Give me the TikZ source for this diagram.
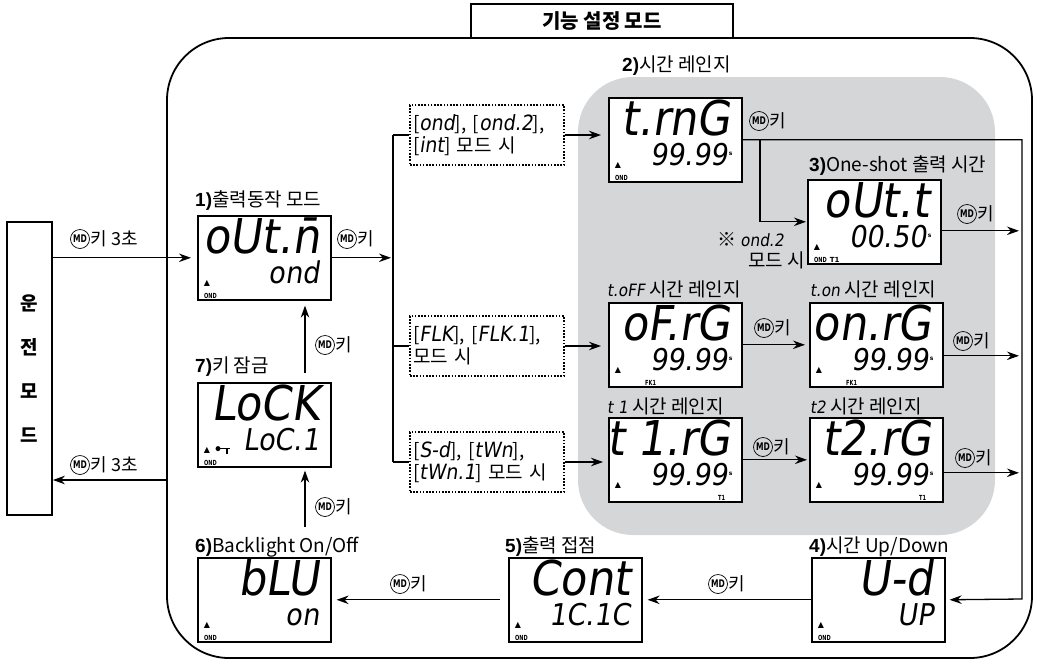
\documentclass[tikz,border=0pt]{standalone}
\usepackage{fontspec}
\usetikzlibrary{arrows.meta,calc}
\setmainfont{Noto Sans CJK KR}
\newfontfamily\lcdf{DejaVu Sans}[FakeStretch=0.9,FakeSlant=0.15]
\newfontfamily\narf{DejaVu Sans}[FakeStretch=0.72]
\newfontfamily\symf{DejaVu Sans}
\newfontfamily\numf{Liberation Sans}
\definecolor{panelgray}{RGB}{212,214,215}
\newcommand\fsz[1]{\fontsize{#1}{#1}\selectfont}
\newcommand\nb[1]{{\numf\bfseries #1}}
\newcommand\lcds[1]{{\lcdf\fsz{17}#1}}
\newcommand\lcdb[1]{{\lcdf\fsz{21}#1}}
\newcommand\lcdDisp[5]{%
  \node[disp] (#1) at #2 {};
  \node[lcdbig] (#1-top) at ([shift={(-12,38)}]#1.north east) {#3};
  \node[lcdsm] (#1-bot) at ([shift={(-#5,68)}]#1.north east) {#4};
  \node[tri] (#1-tri) at ([shift={(10,-17)}]#1.south west) {▲};
}
\newcommand\dispTag[3]{\node[tag] (#1-tag) at ([shift={(#2,-2)}]#1.south west) {#3};}
\newcommand\sMark[1]{\node[smark] (#1-s) at ([shift={(1,-11)}]#1-bot.base east) {s};}
\newcommand\mdKey[3]{%
  \node[mdc] (#1) at #2 {MD};
  \node[keyt] (#1-t) at (#1.east) {#3};
}
\begin{document}
\begin{tikzpicture}[x=1pt,y=-1pt,
  disp/.style={draw,line width=1.6pt,fill=white,minimum width=133pt,minimum height=84pt,inner sep=0pt,anchor=north west},
  lcdbig/.style={anchor=base east,inner sep=0pt,text height=0.76em,text depth=0pt,font=\lcdf\fsz{48}},
  lcdsm/.style={anchor=base east,inner sep=0pt,text height=0.76em,text depth=0pt,font=\lcdf\fsz{30}},
  tri/.style={inner sep=0pt,font=\symf\fsz{8}},
  tag/.style={anchor=south west,inner sep=0pt,font=\narf\bfseries\fsz{7}},
  smark/.style={anchor=west,inner sep=0pt,font=\symf\bfseries\fsz{6}},
  lbl/.style={anchor=base west,inner sep=0pt,font=\fsz{19}},
  mdc/.style={circle,draw,line width=0.7pt,inner sep=0pt,minimum size=19pt,font=\narf\bfseries\fsz{10.5}},
  keyt/.style={anchor=west,inner sep=0.5pt,font=\fsz{18}},
  conn/.style={line width=1.3pt},
  arr/.style={conn,-{Stealth[length=12pt,width=8.5pt]}},
  dbox/.style={draw,line width=1.6pt,dash pattern=on 1.6pt off 1.6pt,minimum height=60pt,text width=148pt,inner sep=3pt,align=left,font=\fontsize{19}{22}\selectfont},
]
\useasboundingbox (0,0) rectangle (1037,662);

% frame and panel
\node[draw,line width=1.8pt,rounded corners=62pt,minimum width=865pt,minimum height=620pt,inner sep=0pt] (frame) at (599.5,348) {};
\node[fill=panelgray,rounded corners=55pt,minimum width=417pt,minimum height=458pt,inner sep=0pt] (panel) at (786.5,306) {};
\node[draw,line width=1.8pt,fill=white,minimum width=262pt,minimum height=34pt,inner sep=0pt,font=\bfseries\fsz{20}] (title) at (602,21) {기능 설정 모드};

% operation mode box
\node[draw,line width=1.8pt,minimum width=45pt,minimum height=293pt,inner sep=0pt,align=center,font=\bfseries\fontsize{19}{44}\selectfont] (op) at (29.5,368.5) {운\\전\\모\\드};

% displays
\lcdDisp{d1}{(197,215)}{oUt.n̄}{ond}{12}
\dispTag{d1}{7}{OND}
\lcdDisp{trng}{(608,97)}{t.rnG}{99.99}{15}
\dispTag{trng}{7}{OND}\sMark{trng}
\lcdDisp{outt}{(807,179)}{oUt.t}{00.50}{15}
\dispTag{outt}{7}{OND\hspace{3pt}{\symf\bfseries T1}}\sMark{outt}
\lcdDisp{ofrg}{(608,302)}{oF.rG}{99.99}{15}
\dispTag{ofrg}{37}{FK1}\sMark{ofrg}
\lcdDisp{onrg}{(809,302)}{on.rG}{99.99}{15}
\dispTag{onrg}{37}{FK1}\sMark{onrg}
\lcdDisp{t1rg}{(608,417)}{t 1.rG}{99.99}{15}
\dispTag{t1rg}{110}{T1}\sMark{t1rg}
\lcdDisp{t2rg}{(809,417)}{t2.rG}{99.99}{15}
\dispTag{t2rg}{110}{T1}\sMark{t2rg}
\lcdDisp{lock}{(197,382)}{LoCK}{LoC.1}{12}
\dispTag{lock}{7}{OND}
\fill ([shift={(21,-19)}]lock.south west) circle (2.5pt);
\draw[line width=1.2pt] ([shift={(21,-19)}]lock.south west) -- ([shift={(33,-19)}]lock.south west);
\draw[line width=1.2pt] ([shift={(30,-19)}]lock.south west) -- ([shift={(30,-14)}]lock.south west);
\lcdDisp{blu}{(197,557)}{bLU}{on}{12}
\dispTag{blu}{7}{OND}
\lcdDisp{cont}{(508,557)}{Cont}{1C.1C}{12}
\dispTag{cont}{7}{OND}
\lcdDisp{ud}{(811,557)}{U-d}{UP}{12}
\dispTag{ud}{7}{OND}

% display labels
\node[lbl] (l1) at (195,206) {\nb{1)}출력동작 모드};
\node[lbl] (l2) at (622,71) {\nb{2)}시간 레인지};
\node[lbl] (l3) at (809,171) {\nb{3)}One-shot 출력 시간};
\node[lbl] (l4) at (607,296) {\lcds{t.oFF} 시간 레인지};
\node[lbl] (l5) at (810,296) {\lcds{t.on} 시간 레인지};
\node[lbl] (l6) at (607,413) {\lcds{t 1} 시간 레인지};
\node[lbl] (l7) at (810,413) {\lcds{t2} 시간 레인지};
\node[lbl] (l8) at (195,372) {\nb{7)}키 잠금};
\node[lbl] (l9) at (195,552) {\nb{6)}Backlight On/Off};
\node[lbl] (l10) at (505,552) {\nb{5)}출력 접점};
\node[lbl] (l11) at (809,552) {\nb{4)}시간 Up/Down};
\node[lbl] (n1) at (717,246) {※ \lcds{ond.2}};
\node[lbl] (n2) at (748,267) {모드 시};

% condition boxes
\node[dbox] (b1) at (487,135) {[\lcdb{ond}], [\lcdb{ond.2}],\\{}[\lcdb{int}] 모드 시};
\node[dbox] (b2) at (487,346) {[\lcdb{FLK}], [\lcdb{FLK.1}],\\{}모드 시};
\node[dbox] (b3) at (487,462) {[\lcdb{S-d}], [\lcdb{tWn}],\\{}[\lcdb{tWn.1}] 모드 시};

% helper coordinates
\coordinate (bus) at (393,0);
\coordinate (rv) at (1022,599);
\coordinate (br) at (760,0);
\coordinate (vx) at (305,0);
\coordinate (ret) at (167,480);

% connectors
\draw[arr,shorten >=6pt] (op.east |- d1.west) -- (d1.west);
\draw[arr] (ret) -- (ret -| op.east);
\draw[arr,shorten >=2pt] (d1.east) -- (d1.east -| bus);
\draw[conn] (b1.west -| bus) -- (b3.west -| bus);
\draw[conn] (b1.west -| bus) -- (b1.west);
\draw[conn] (b2.west -| bus) -- (b2.west);
\draw[conn] (b3.west -| bus) -- (b3.west);
\draw[arr,shorten >=7pt] (b1.east) -- (b1.east -| trng.west);
\draw[arr,shorten >=7pt] (b2.east) -- (b2.east -| ofrg.west);
\draw[arr,shorten >=5pt] (b3.east) -- (b3.east -| t1rg.west);
\draw[arr,shorten >=4pt] (trng.east) -| (rv) -- (ud.east);
\draw[arr,shorten >=1pt] (trng.east -| br) |- (outt.west);
\draw[arr,shorten >=3pt] ([shift={(0,9)}]outt.east) -- ([shift={(0,9)}]outt.east -| rv);
\draw[arr,shorten >=4pt] (ofrg.east) -- (onrg.west);
\draw[arr,shorten >=3pt] ([shift={(0,11)}]onrg.east) -- ([shift={(0,11)}]onrg.east -| rv);
\draw[arr,shorten >=2pt] (t1rg.east) -- (t2rg.west);
\draw[arr,shorten >=3pt] ([shift={(0,13)}]t2rg.east) -- ([shift={(0,13)}]t2rg.east -| rv);
\draw[arr,shorten >=5pt] (ud.west) -- (cont.east);
\draw[arr,shorten <=8pt,shorten >=5pt] (cont.west) -- (blu.east);
\draw[arr,shorten <=30pt,shorten >=3pt] (blu.north -| vx) -- (lock.south -| vx);
\draw[arr,shorten <=9pt,shorten >=5pt] (lock.north -| vx) -- (d1.south -| vx);

% key labels
\mdKey{k0}{(80,239)}{키 3초}
\mdKey{k1}{(80,465)}{키 3초}
\mdKey{k2}{(347,239)}{키}
\mdKey{k3}{(759,121)}{키}
\mdKey{k4}{(967,214)}{키}
\mdKey{k5}{(764,328)}{키}
\mdKey{k6}{(963,341)}{키}
\mdKey{k7}{(763,447)}{키}
\mdKey{k8}{(965,458)}{키}
\mdKey{k9}{(718,584)}{키}
\mdKey{k10}{(400,584)}{키}
\mdKey{k11}{(325,345)}{키}
\mdKey{k12}{(325,507)}{키}
\end{tikzpicture}
\end{document}
